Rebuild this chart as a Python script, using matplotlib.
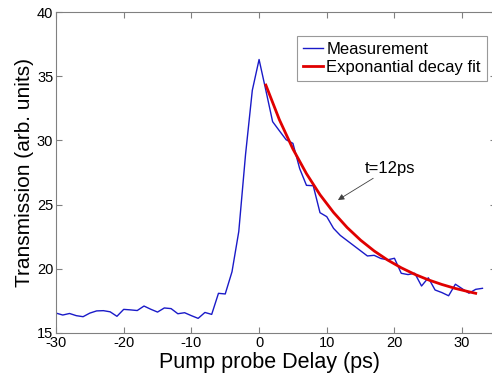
import numpy as np
import matplotlib
matplotlib.use("Agg")
import matplotlib.pyplot as plt

plt.rcParams['font.family'] = ['Liberation Sans', 'DejaVu Sans']
plt.rcParams['axes.unicode_minus'] = False

# measured transmission, 1 ps steps from -30 to 33 ps
delay = np.arange(-30, 34)
trans = [16.55, 16.40, 16.52, 16.35, 16.27, 16.55, 16.72, 16.74, 16.65, 16.30,
         16.84, 16.80, 16.75, 17.10, 16.85, 16.63, 16.95, 16.90, 16.50, 16.58,
         16.35, 16.14, 16.60, 16.45, 18.09, 18.04, 19.77, 22.90, 28.90, 33.90,
         36.30, 33.90, 31.46, 30.75, 30.05, 29.77, 27.80, 26.50, 26.47, 24.37,
         24.06, 23.15, 22.60, 22.20, 21.80, 21.40, 21.00, 21.05, 20.80, 20.70,
         20.82, 19.65, 19.55, 19.65, 18.66, 19.30, 18.35, 18.15, 17.90, 18.80,
         18.45, 18.10, 18.40, 18.48]

# exponential fit curve (tau = 12 ps)
fit_t = [1, 3, 5, 7, 9, 11, 13, 15, 17, 19, 21, 23, 25, 27, 29, 31, 32]
fit_y = [34.31, 31.61, 29.33, 27.41, 25.77, 24.39, 23.22, 22.23, 21.39,
         20.68, 20.08, 19.57, 19.14, 18.78, 18.47, 18.21, 18.09]

xticks = [-30, -20, -10, 0, 10, 20, 30]
yticks = [15, 20, 25, 30, 35, 40]

fig = plt.figure(figsize=(4.92, 3.76), dpi=100)
ax = fig.add_axes([56/492, 43/376, 440/492, 321/376])

ax.plot(delay, trans, color='#1a1ac8', lw=1.0, label='Measurement')
ax.plot(fit_t, fit_y, color='#e00000', lw=2.0, label='Exponantial decay fit')

ax.set_xlim(-30, 35)
ax.set_ylim(15, 40)
ax.set_xticks(xticks)
ax.set_yticks(yticks)
ax.tick_params(direction='in', top=True, right=True, length=4, width=0.8,
               colors='#808080', labelcolor='black', labelsize=10.5, pad=2)
for s in ax.spines.values():
    s.set_color('#808080')
    s.set_linewidth(0.8)

ax.set_xlabel('Pump probe Delay (ps)', fontsize=15.5)
ax.xaxis.set_label_coords(0.486, -0.058)
ax.set_ylabel('Transmission (arb. units)', fontsize=15, labelpad=2)

ax.annotate('t=12ps', xy=(11.65, 25.36), xytext=(15.6, 27.85),
            fontsize=12, va='center', ha='left',
            arrowprops=dict(arrowstyle='-|>', color='#404040', lw=0.6,
                            mutation_scale=9, shrinkA=0, shrinkB=0))

leg = ax.legend(loc='upper left', bbox_to_anchor=(297/492, 1 - 36/376),
                bbox_transform=fig.transFigure, fontsize=12, frameon=True,
                fancybox=False, handlelength=1.2, handletextpad=0.2,
                borderpad=0.35, labelspacing=0.2, borderaxespad=0)
leg.get_frame().set_edgecolor('#808080')
leg.get_frame().set_linewidth(0.8)

fig.savefig('out.png', dpi=100)
